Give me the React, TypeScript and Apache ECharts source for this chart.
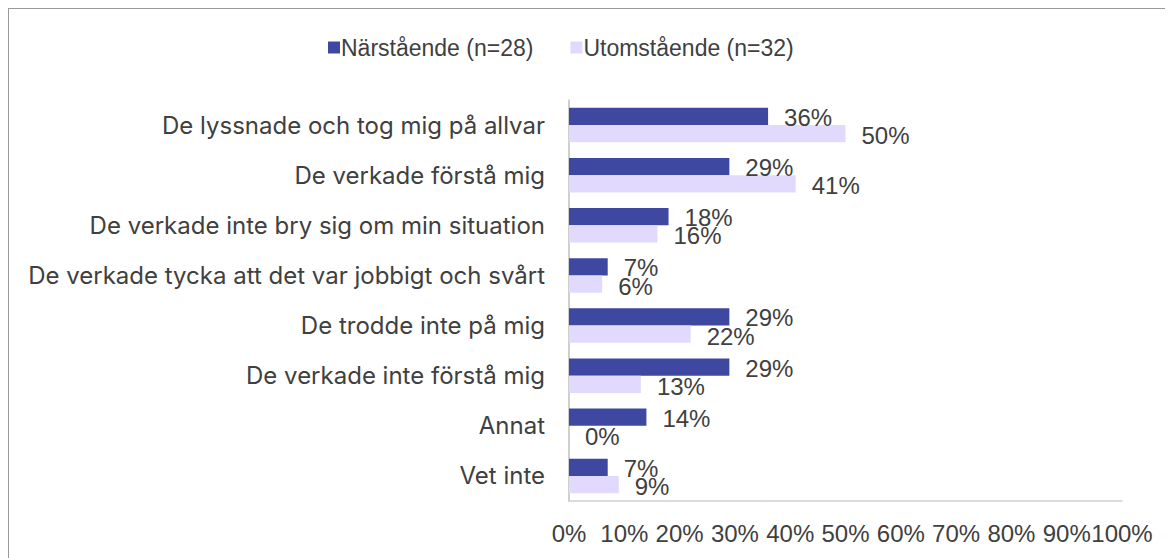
import React, { useEffect, useRef } from "react";
import * as echarts from "echarts";

const categories = [
  "De lyssnade och tog mig på allvar",
  "De verkade förstå mig",
  "De verkade inte bry sig om min situation",
  "De verkade tycka att det var jobbigt och svårt",
  "De trodde inte på mig",
  "De verkade inte förstå mig",
  "Annat",
  "Vet inte",
];
const seriesNames = ["Närstående (n=28)", "Utomstående (n=32)"];
const narstaende = [36, 29, 18, 7, 29, 29, 14, 7];
const utomstaende = [50, 41, 16, 6, 22, 13, 0, 9];

const TEXT = "#404040";
const SANS = "'Liberation Sans', Arial, sans-serif";

export default function App() {
  const ref = useRef<HTMLDivElement>(null);
  useEffect(() => {
    if (!ref.current) return;
    const chart = echarts.init(ref.current, undefined, { renderer: "svg" });
    chart.setOption({
      animation: false,
      backgroundColor: "#ffffff",
      legend: {
        left: 314,
        top: 22,
        itemWidth: 12,
        itemHeight: 12,
        itemGap: 37,
        icon: "rect",
        textStyle: { fontFamily: SANS, fontSize: 23, color: TEXT, padding: [0, 0, 0, -4] },
        data: seriesNames,
      },
      grid: { left: 560, top: 91, width: 553, height: 401, containLabel: false },
      xAxis: {
        type: "value",
        min: 0,
        max: 100,
        interval: 10,
        splitLine: { show: false },
        axisTick: { show: false },
        axisLine: { show: true, lineStyle: { color: "#d0d0d0", width: 1.5 } },
        axisLabel: {
          formatter: "{value}%",
          fontFamily: SANS,
          fontSize: 24,
          color: TEXT,
          margin: 20,
        },
      },
      yAxis: {
        type: "category",
        inverse: true,
        data: categories,
        axisTick: { show: false },
        axisLine: { show: true, lineStyle: { color: "#bfbfbf", width: 1.5 } },
        axisLabel: {
          fontFamily: "Inter, sans-serif",
          fontSize: 24,
          color: TEXT,
          margin: 24,
        },
      },
      series: [
        {
          name: seriesNames[0],
          type: "bar",
          data: narstaende,
          barGap: "0%",
          barCategoryGap: "31%",
          itemStyle: { color: "#3f48a0" },
          label: {
            show: true,
            position: "right",
            distance: 16,
            offset: [0, 1],
            formatter: "{c}%",
            fontFamily: SANS,
            fontSize: 24,
            color: TEXT,
          },
        },
        {
          name: seriesNames[1],
          type: "bar",
          data: utomstaende,
          barGap: "0%",
          barCategoryGap: "31%",
          itemStyle: { color: "#e2dafc" },
          label: {
            show: true,
            position: "right",
            distance: 16,
            offset: [0, 2],
            formatter: "{c}%",
            fontFamily: SANS,
            fontSize: 24,
            color: TEXT,
          },
        },
      ],
    });
    return () => chart.dispose();
  }, []);
  return (
    <div
      ref={ref}
      style={{
        width: 1165,
        height: 550,
        borderTop: "1px solid #999",
        borderLeft: "1px solid #999",
        boxSizing: "border-box",
      }}
    />
  );
}
